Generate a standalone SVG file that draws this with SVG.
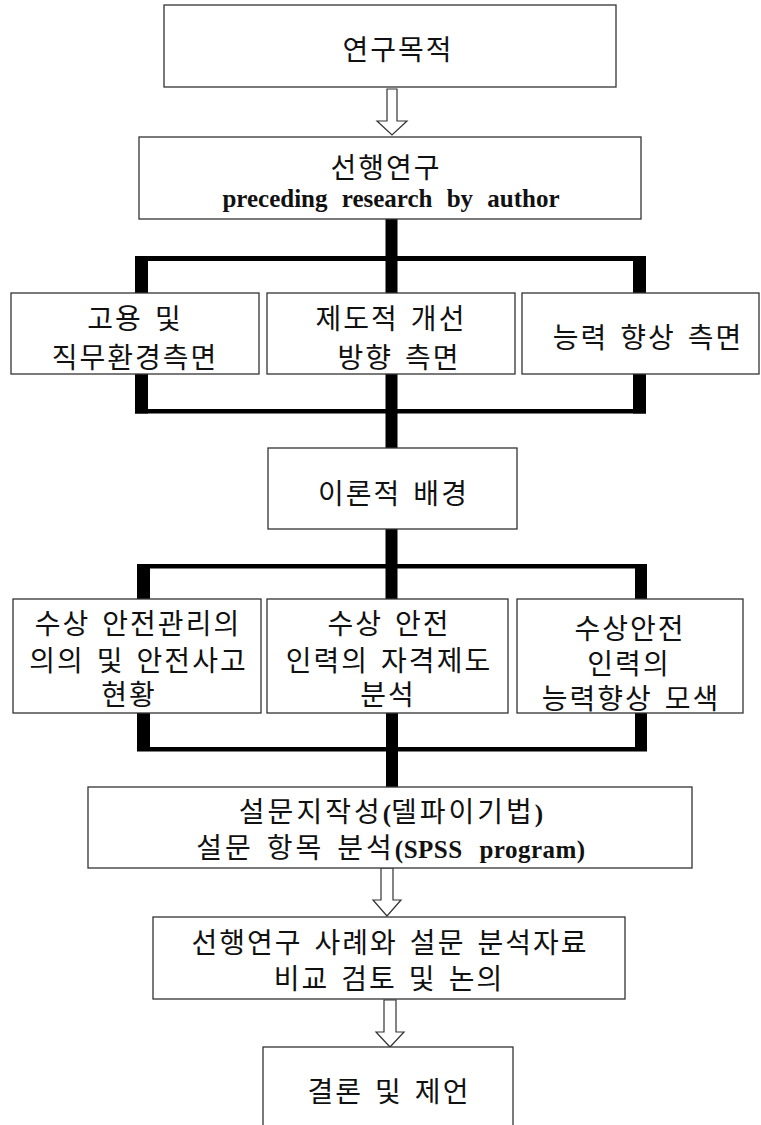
<svg xmlns="http://www.w3.org/2000/svg" width="761" height="1125" viewBox="0 0 761 1125">
<style>
.box{fill:#fff;stroke:#333;stroke-width:1.3}
.bar{fill:#000}
.arr{fill:#fff;stroke:#333;stroke-width:1.2}
.t{font-family:"Liberation Serif","Noto Sans CJK KR",serif;font-size:28px;letter-spacing:2px;word-spacing:3px;text-anchor:middle;fill:#111}
.en{font-size:25px;font-weight:bold;letter-spacing:0}
</style>
<rect width="761" height="1125" fill="#fff"/>
<g id="connectors">
  <path class="arr" d="M387,89 H397 V121 H407 L392,135 L377,121 H387 Z"/>
  <rect class="bar" x="385.5" y="219" width="12" height="74"/>
  <rect class="bar" x="135" y="256" width="511" height="5"/>
  <rect class="bar" x="135" y="256" width="13" height="37"/>
  <rect class="bar" x="633" y="256" width="13" height="37"/>
  <rect class="bar" x="135" y="374" width="13" height="39.5"/>
  <rect class="bar" x="385.5" y="374" width="12" height="74"/>
  <rect class="bar" x="633" y="374" width="13" height="39.5"/>
  <rect class="bar" x="135" y="409" width="511" height="4.5"/>
  <rect class="bar" x="385.5" y="529" width="12" height="70"/>
  <rect class="bar" x="137" y="564" width="510" height="4.5"/>
  <rect class="bar" x="137" y="564" width="13" height="35"/>
  <rect class="bar" x="635" y="564" width="12" height="35"/>
  <rect class="bar" x="137" y="713" width="13" height="38"/>
  <rect class="bar" x="386" y="713" width="12" height="74"/>
  <rect class="bar" x="635" y="713" width="12" height="38"/>
  <rect class="bar" x="137" y="747" width="510" height="4.5"/>
  <path class="arr" d="M381,868 H393 V900 H401 L387,916 L373,900 H381 Z"/>
  <path class="arr" d="M384,1000 H396 V1032 H404 L390,1047 L376,1032 H384 Z"/>
</g>
<g id="n-purpose">
  <rect class="box" x="164" y="5" width="452" height="82"/>
  <text class="t" x="398" y="59.5">연구목적</text>
</g>
<g id="n-preceding">
  <rect class="box" x="139" y="137" width="502" height="82"/>
  <text class="t" x="386" y="177.5">선행연구</text>
  <text class="t en" x="391" y="207" style="word-spacing:8px">preceding research by author</text>
</g>
<g id="n-employment">
  <rect class="box" x="11" y="293" width="248" height="81"/>
  <text class="t" x="135" y="328.5">고용 및</text>
  <text class="t" x="135" y="367.5">직무환경측면</text>
</g>
<g id="n-institution">
  <rect class="box" x="267" y="293" width="248" height="81"/>
  <text class="t" x="391" y="328.5">제도적 개선</text>
  <text class="t" x="399" y="367.5">방향 측면</text>
</g>
<g id="n-ability">
  <rect class="box" x="522" y="293" width="237" height="81"/>
  <text class="t" x="648" y="347.5">능력 향상 측면</text>
</g>
<g id="n-theory">
  <rect class="box" x="268" y="448" width="249" height="81"/>
  <text class="t" x="393.5" y="503.5">이론적 배경</text>
</g>
<g id="n-safety-mgmt">
  <rect class="box" x="13" y="599" width="248" height="114"/>
  <text class="t" x="138" y="633.5">수상 안전관리의</text>
  <text class="t" x="138.5" y="670.5">의의 및 안전사고</text>
  <text class="t" x="129" y="704.5">현황</text>
</g>
<g id="n-qualification">
  <rect class="box" x="267" y="599" width="241" height="114"/>
  <text class="t" x="389" y="633.5">수상 안전</text>
  <text class="t" x="389" y="670.5">인력의 자격제도</text>
  <text class="t" x="388" y="704.5">분석</text>
</g>
<g id="n-improvement">
  <rect class="box" x="517" y="599" width="226" height="114"/>
  <text class="t" x="630" y="638.5">수상안전</text>
  <text class="t" x="629" y="673.5">인력의</text>
  <text class="t" x="631" y="708.5">능력향상 모색</text>
</g>
<g id="n-survey">
  <rect class="box" x="88" y="787" width="604" height="81"/>
  <text class="t" x="391" y="821.5" style="letter-spacing:3px">설문지작성<tspan class="en">(</tspan>델파이기법<tspan class="en">)</tspan></text>
  <text class="t" x="391" y="857.5" style="letter-spacing:3px">설문 항목 분석<tspan class="en" style="word-spacing:10px;letter-spacing:0.5px">(SPSS program)</tspan></text>
</g>
<g id="n-comparison">
  <rect class="box" x="153" y="917" width="472" height="82"/>
  <text class="t" x="390" y="952.5">선행연구 사례와 설문 분석자료</text>
  <text class="t" x="389" y="988.5">비교 검토 및 논의</text>
</g>
<g id="n-conclusion">
  <rect class="box" x="263" y="1047" width="250" height="90"/>
  <text class="t" x="389" y="1101.5">결론 및 제언</text>
</g>
</svg>
